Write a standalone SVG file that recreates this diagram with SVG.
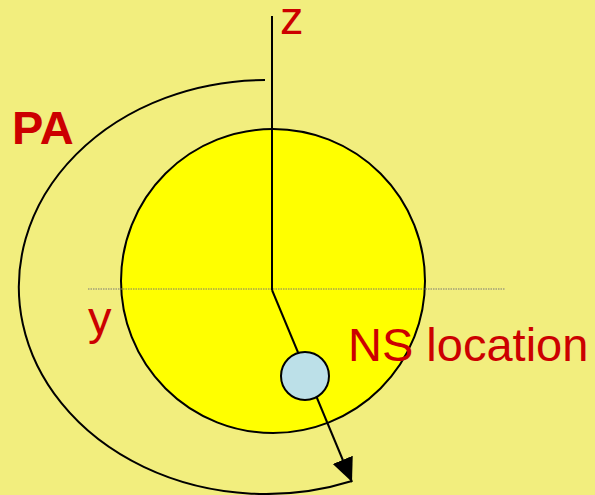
<svg xmlns="http://www.w3.org/2000/svg" width="595" height="495" viewBox="0 0 595 495">
<defs>
<style>
.lbl{font-family:"Liberation Sans",Arial,sans-serif;fill:#CC0000;font-size:47px}
.ln{stroke:#000;stroke-width:2;fill:none}
</style>
<marker id="ah2" viewBox="0 0 20 20" refX="20" refY="10" markerWidth="24" markerHeight="24" markerUnits="userSpaceOnUse" orient="auto">
<path d="M0,1 L20,10 L0,19 z" fill="#000"/>
</marker>
</defs>
<rect width="595" height="495" fill="#F2EE7E"/>
<g id="sphere"><ellipse cx="273" cy="281" rx="152" ry="152" fill="#FFFF00" stroke="#000" stroke-width="2"/></g>
<g id="connectors">
<line x1="88" y1="289" x2="505" y2="289" stroke="#777" stroke-width="1.2" stroke-dasharray="1.5,1"/>
<line class="ln" x1="272" y1="16" x2="272" y2="290"/>
<path class="ln" d="M265,80 A247,207 0 1,0 352,481"/>
<line class="ln" x1="272" y1="290" x2="352" y2="482" marker-end="url(#ah2)"/>
</g>
<g id="ns"><circle cx="305" cy="376" r="24" fill="#BCE0E8" stroke="#000" stroke-width="2"/></g>
<g id="labels">
<text class="lbl" x="280" y="34" font-size="45">z</text>
<text class="lbl" x="12" y="144" font-weight="bold">PA</text>
<text class="lbl" x="88" y="334">y</text>
<text class="lbl" x="348" y="361" font-size="48">NS location</text>
</g>
</svg>
